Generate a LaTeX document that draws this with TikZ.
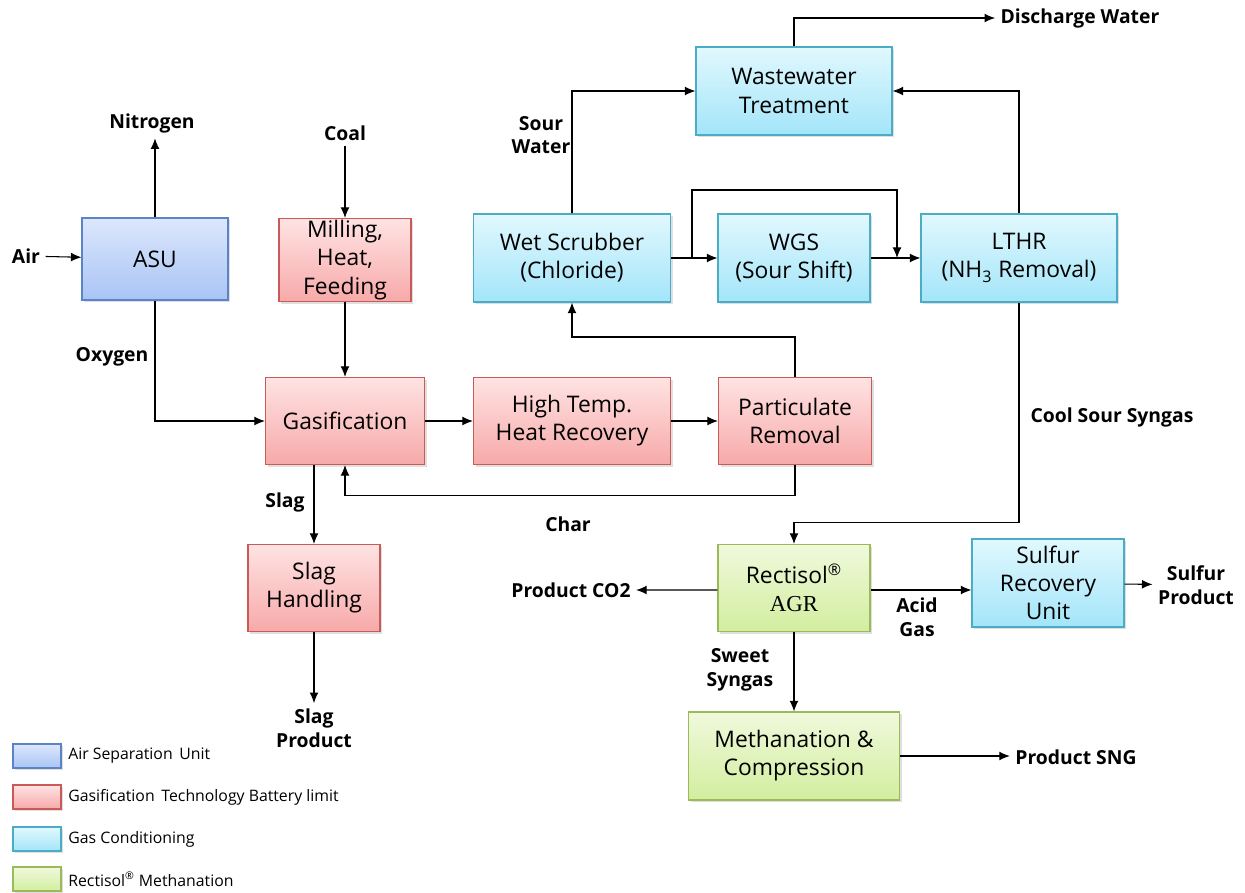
\documentclass[tikz,border=0pt]{standalone}
\usepackage{fontspec}
\setmainfont{Open Sans}
\newfontfamily\agrfont{Liberation Serif}
\usetikzlibrary{arrows.meta,positioning,shadows}

\definecolor{asutop}{HTML}{DCE7FC}
\definecolor{asubot}{HTML}{A9C4F5}
\definecolor{asuline}{HTML}{5B84C6}
\definecolor{gastop}{HTML}{FFE3E3}
\definecolor{gasbot}{HTML}{F7A9A9}
\definecolor{gasline}{HTML}{C85A58}
\definecolor{contop}{HTML}{E1F8FE}
\definecolor{conbot}{HTML}{A3E5F9}
\definecolor{conline}{HTML}{4BACC6}
\definecolor{rectop}{HTML}{F0F9DC}
\definecolor{recbot}{HTML}{D2EE9F}
\definecolor{recline}{HTML}{9BBB59}

\tikzset{
  boxsize/.style 2 args={minimum width=#1*0.02cm, minimum height=#2*0.02cm},
  unit/.style={draw, line width=0.6pt, align=center, inner sep=0pt,
    font=\fontsize{13}{16}\selectfont,
    drop shadow={opacity=0.25, shadow xshift=1.2pt, shadow yshift=-1.2pt}},
  asubox/.style={unit, draw=asuline, top color=asutop, bottom color=asubot},
  gasbox/.style={unit, draw=gasline, top color=gastop, bottom color=gasbot},
  conbox/.style={unit, draw=conline, top color=contop, bottom color=conbot},
  recbox/.style={unit, draw=recline, top color=rectop, bottom color=recbot},
  lbl/.style={font=\bfseries\fontsize{11}{13.5}\selectfont, align=center, inner sep=3pt},
  keytext/.style={anchor=west, font=\fontsize{9}{11}\selectfont, inner sep=0pt},
  flow/.style={-{Latex[length=6pt,width=5pt]}, line width=0.6pt},
}

\begin{document}
\begin{tikzpicture}[x=0.02cm, y=-0.02cm]
  %%%%% START %%%%%
  \useasboundingbox (0,0) rectangle (1245,893);

  % units
  \node[asubox, boxsize={146}{82}] (asu) at (155,259) {ASU};
  \node[gasbox, boxsize={132}{83}] (mill) at (345,260) {Milling,\\Heat,\\Feeding};
  \node[gasbox, boxsize={159}{87}] (gasif) at (345,421) {Gasification};
  \node[gasbox, boxsize={197}{87}] (htr) at (572,421) {High Temp.\\Heat Recovery};
  \node[gasbox, boxsize={153}{87}] (partic) at (795,421) {Particulate\\Removal};
  \node[gasbox, boxsize={132}{87}] (slag) at (314,588) {Slag\\Handling};
  \node[conbox, boxsize={197}{88}] (scrub) at (572,258) {Wet Scrubber\\(Chloride)};
  \node[conbox, boxsize={152}{88}] (wgs) at (794,258) {WGS\\(Sour Shift)};
  \node[conbox, boxsize={196}{88}] (lthr) at (1019,258) {LTHR\\(NH\textsubscript{3} Removal)};
  \node[conbox, boxsize={196}{88}] (wwt) at (794,91) {Wastewater\\Treatment};
  \node[recbox, boxsize={152}{87}] (agr) at (794,588) {Rectisol\textsuperscript{\textregistered}\\{\agrfont AGR}};
  \node[conbox, boxsize={152}{88}] (sru) at (1048,583) {Sulfur\\Recovery\\Unit};
  \node[recbox, boxsize={211}{88}] (meth) at (794,756) {Methanation \&\\Compression};

  % stream labels
  \node[lbl] (air) at (26,256) {Air};
  \node[lbl] (nitrogen) at (152,123) {Nitrogen};
  \node[lbl] (coal) at (345,133) {Coal};
  \node[lbl] (oxygen) at (112,357) {Oxygen};
  \node[lbl] (slaglbl) at (285,502) {Slag};
  \node[lbl] (char) at (568,524) {Char};
  \node[lbl] (slagprod) at (314,728) {Slag\\Product};
  \node[lbl] (sour) at (541,135) {Sour\\Water};
  \node[lbl] (discharge) at (1080,18) {Discharge Water};
  \node[lbl] (coolsour) at (1112,417) {Cool Sour Syngas};
  \node[lbl] (co2) at (571,590) {Product CO2};
  \node[lbl] (acid) at (917,617) {Acid\\Gas};
  \node[lbl] (sulfur) at (1196,585) {Sulfur\\Product};
  \node[lbl] (sweet) at (740,670) {Sweet\\Syngas};
  \node[lbl] (sng) at (1076,757) {Product SNG};

  % connectors
  \draw[flow] (air) -- (asu);
  \draw[flow] (asu.north) -- (asu.north |- nitrogen.south);
  \draw[flow] (asu.south) |- (gasif.west);
  \draw[flow] (coal) -- (mill);
  \draw[flow] (mill) -- (gasif);
  \draw[flow] (gasif) -- (htr);
  \draw[flow] (htr) -- (partic);
  \draw[flow] (partic.south) -- ++(0,30) -| (gasif.south);
  \draw[flow] (gasif.south -| slag.north) -- (slag.north);
  \draw[flow] (slag) -- (slagprod);
  \draw[flow] (partic.north) -- ++(0,-40) -| (scrub.south);
  \draw[flow] (scrub.north) |- (wwt.west);
  \draw[flow] (scrub) -- (wgs);
  \coordinate (split) at (692,258);
  \coordinate (join) at (897,258);
  \draw[flow] (split) -- ++(0,-68) -| (join);
  \draw[flow] (wgs) -- (lthr);
  \draw[flow] (lthr.north) |- (wwt.east);
  \draw[flow] (wwt.north) |- (discharge.west);
  \draw[flow] (lthr.south) -- ++(0,220) -| (agr.north);
  \draw[flow] ([yshift=-0.04cm]agr.west) -- (co2);
  \draw[flow] ([yshift=-0.04cm]agr.east) -- ([yshift=-0.04cm]agr.east -| sru.west);
  \draw[flow] (sru) -- (sulfur);
  \draw[flow] (agr) -- (meth);
  \draw[flow] (meth.east) -- (meth.east -| sng.west);

  % legend
  \node[asubox, boxsize={48}{24}] (keyasu) at (37,756) {};
  \node[gasbox, boxsize={48}{24}] (keygas) at (37,797) {};
  \node[conbox, boxsize={48}{24}] (keycon) at (37,839) {};
  \node[recbox, boxsize={48}{24}] (keyrec) at (37,879) {};
  \node[keytext] (txtasu) at (68,756) {Air Separation\, Unit};
  \node[keytext] (txtgas) at (68,797) {Gasification\, Technology Battery limit};
  \node[keytext] (txtcon) at (68,839) {Gas Conditioning};
  \node[keytext] (txtrec) at (68,879) {Rectisol\textsuperscript{\textregistered} Methanation};
  %%%%% END %%%%%
\end{tikzpicture}
\end{document}
